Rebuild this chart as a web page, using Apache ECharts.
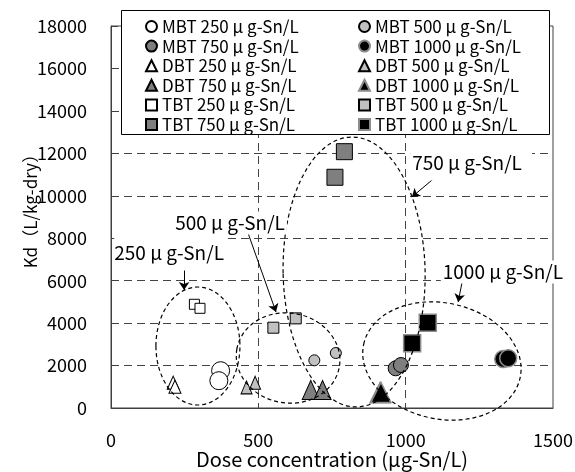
<!DOCTYPE html>
<html>
<head>
<meta charset="utf-8">
<script src="https://cdn.jsdelivr.net/npm/echarts@6/dist/echarts.min.js"></script>
<style>
    html, body { margin: 0; padding: 0; background: #fff; }
    #chart { width: 575px; height: 472px; }
</style>
</head>
<body>
<div id="chart"></div>
<script>
// dose concentration (µg-Sn/L), Kd (L/kg-dry)
const mbt250 = [[372, 1758], [366, 1287]];
const mbt500 = [[690, 2247], [763, 2592]];
const mbt750 = [[966, 1871], [984, 2026]];
const mbt1000 = [[1331, 2309], [1348, 2342]];
const dbt250 = [[211, 1192], [217, 1004]];
const dbt500 = [[460, 972], [489, 1190]];
const dbt750 = [[678, 846], [718, 846]];
const dbt1000 = [[913, 721], [916, 735]];
const tbt250 = [[283, 4887], [302, 4698]];
const tbt500 = [[551, 3784], [627, 4223]];
const tbt750 = [[792, 12078], [760, 10872]];
const tbt1000 = [[1075, 4020], [1022, 3049]];

const xTicks = [0, 500, 1000, 1500];
const yTicks = [0, 2000, 4000, 6000, 8000, 10000, 12000, 14000, 16000, 18000];

const unit = ' μ g-Sn/L';
const FONT = "'Noto Sans CJK JP', sans-serif";

let chart = echarts.init(document.getElementById('chart'));

function sc(name, data, symbol, size, fill, border, bw) {
    return {
        name: name,
        type: 'scatter',
        data: data,
        symbol: symbol,
        symbolSize: size,
        itemStyle: { color: fill, borderColor: border, borderWidth: bw, opacity: 1 },
        emphasis: { disabled: true },
        z: 2
    };
}

const W = '#ffffff', LG = '#c0c0c0', DG = '#7f7f7f', BK = '#000000';

let series = [
    sc('MBT 250' + unit, mbt250, 'circle', 18, W, '#000', 1),
    sc('MBT 500' + unit, mbt500, 'circle', 11, LG, '#000', 1),
    sc('MBT 750' + unit, mbt750, 'circle', 15, DG, '#000', 1),
    sc('MBT 1000' + unit, mbt1000, 'circle', 17, BK, '#8c8c8c', 1.5),
    sc('DBT 250' + unit, dbt250, 'triangle', [12, 13], W, '#000', 1),
    sc('DBT 500' + unit, dbt500, 'triangle', [11, 13], LG, '#000', 1),
    sc('DBT 750' + unit, dbt750, 'triangle', [17, 19], DG, '#000', 1),
    sc('DBT 1000' + unit, dbt1000, 'triangle', [20, 20], BK, '#8c8c8c', 1.5),
    sc('TBT 250' + unit, tbt250, 'rect', 10, W, '#000', 1),
    sc('TBT 500' + unit, tbt500, 'rect', 11, LG, '#000', 1),
    sc('TBT 750' + unit, tbt750, 'rect', 16, DG, '#000', 1),
    sc('TBT 1000' + unit, tbt1000, 'rect', 17, BK, '#8c8c8c', 1.5)
];

// arrows of the concentration labels, in data units
const arrows = [
    [[248, 6691], [248, 5560]],
    [[465, 8246], [560, 4524]],
    [[1106, 10932], [1021, 9942]],
    [[1191, 5890], [1178, 4995]]
];

series.push({
    name: 'arrows',
    type: 'scatter',
    data: [],
    z: 6,
    markLine: {
        silent: true,
        symbol: ['none', 'arrow'],
        symbolSize: 8,
        label: { show: false },
        lineStyle: { color: '#000', width: 1, type: 'solid' },
        emphasis: { disabled: true },
        data: arrows.map(a => [{ coord: a[0] }, { coord: a[1] }])
    }
});

const legendLeft = ['MBT 250', 'MBT 750', 'DBT 250', 'DBT 750', 'TBT 250', 'TBT 750'].map(s => s + unit);
const legendRight = ['MBT 500', 'MBT 1000', 'DBT 500', 'DBT 1000', 'TBT 500', 'TBT 1000'].map(s => s + unit);

function legendCfg(names, left) {
    return {
        data: names,
        orient: 'vertical',
        left: left,
        top: 18,
        padding: 0,
        itemWidth: 11,
        itemHeight: 11,
        itemGap: 2.6,
        selectedMode: false,
        textStyle: { fontFamily: FONT, fontSize: 17, color: '#000', lineHeight: 16 },
        z: 5
    };
}

let option = {
    animation: false,
    backgroundColor: '#fff',
    grid: {
        left: 111, right: 22, top: 26, bottom: 64,
        outerBoundsMode: 'none',
        show: true, borderColor: '#404040', borderWidth: 1
    },
    legend: [legendCfg(legendLeft, 145), legendCfg(legendRight, 358)],
    xAxis: {
        type: 'value',
        min: 0, max: 1500, interval: 500,
        name: 'Dose concentration (μg-Sn/L)',
        nameLocation: 'middle',
        nameGap: 41,
        nameMoveOverlap: false,
        nameTextStyle: { fontFamily: FONT, fontSize: 20, color: '#000' },
        axisLine: { show: true, lineStyle: { color: '#404040', width: 1 } },
        axisTick: { show: false },
        axisLabel: { fontFamily: FONT, fontSize: 18, color: '#000', margin: 23,
            formatter: v => xTicks.indexOf(v) >= 0 ? String(v) : '' },
        splitLine: { show: true, showMinLine: false, showMaxLine: false,
            lineStyle: { color: '#444', type: [8, 5], width: 1 } }
    },
    yAxis: {
        type: 'value',
        min: 0, max: 18000, interval: 2000,
        axisLine: { show: true, lineStyle: { color: '#404040', width: 1 } },
        axisTick: { show: true, inside: true, length: 7, lineStyle: { color: '#404040' } },
        axisLabel: { fontFamily: FONT, fontSize: 18, color: '#000', margin: 24,
            formatter: v => yTicks.indexOf(v) >= 0 ? String(v) : '' },
        splitLine: { show: true, showMinLine: false, showMaxLine: false,
            lineStyle: { color: '#444', type: [8, 5], width: 1 } }
    },
    series: series
};

chart.setOption(option);

// dashed groups (centre in data units, radii in px) and their labels
const ellipses = [
    { c: [295, 2921], rx: 42, ry: 59, rot: 0 },
    { c: [601, 2356], rx: 52, ry: 45, rot: -0.17 },
    { c: [825, 6409], rx: 71, ry: 135, rot: 0.02 },
    { c: [1123, 2215], rx: 80, ry: 58, rot: -0.21 }
];
const labels = [
    { text: '250' + unit, at: [204, 7304], pad: [14, 4, 2, 0] },
    { text: '500' + unit, at: [404, 8717], pad: [2, 2, 2, 2] },
    { text: '750' + unit, at: [1222, 11545], pad: [12, 10, 4, 2] },
    { text: '1000' + unit, at: [1330, 6409], pad: [2, 2, 2, 2] }
];

let graphics = [{
    type: 'rect',
    shape: { x: 121.5, y: 10.5, width: 428, height: 124 },
    style: { fill: '#fff', stroke: '#000', lineWidth: 1 },
    z: 3, silent: true
}, {
    // y axis title
    type: 'text', x: 31, y: 207, rotation: Math.PI / 2,
    style: { text: 'Kd（L/kg-dry）', fontFamily: FONT, fontSize: 17, fill: '#000',
        align: 'center', verticalAlign: 'middle' },
    z: 5, silent: true
}];
for (let e of ellipses) {
    let p = chart.convertToPixel({ gridIndex: 0 }, e.c);
    graphics.push({
        type: 'ellipse', x: p[0], y: p[1], rotation: e.rot,
        shape: { cx: 0, cy: 0, rx: e.rx, ry: e.ry },
        style: { fill: null, stroke: '#000', lineWidth: 1.2, lineDash: [4, 3] },
        z: 4, silent: true
    });
}
for (let l of labels) {
    let p = chart.convertToPixel({ gridIndex: 0 }, l.at);
    graphics.push({
        type: 'text', x: p[0], y: p[1],
        style: {
            text: l.text, fontFamily: FONT, fontSize: 19, fill: '#000',
            align: 'center', verticalAlign: 'middle',
            backgroundColor: '#fff', padding: l.pad
        },
        z: 5, silent: true
    });
}
chart.setOption({ graphic: graphics });
</script>
</body>
</html>
